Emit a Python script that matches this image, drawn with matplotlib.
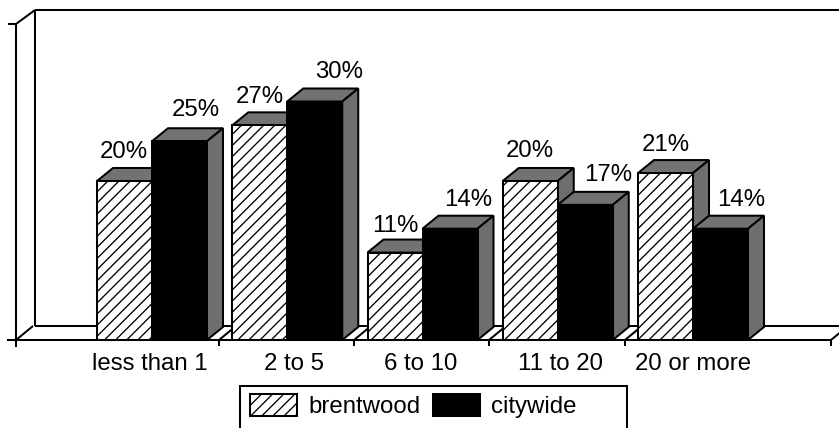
import matplotlib
matplotlib.use("Agg")
import matplotlib.pyplot as plt
from matplotlib.patches import Polygon, Patch, Rectangle

categories = ["less than 1", "2 to 5", "6 to 10", "11 to 20", "20 or more"]
brentwood = [20, 27, 11, 20, 21]
citywide = [25, 30, 14, 17, 14]

plt.rcParams["font.family"] = ["Liberation Sans", "DejaVu Sans"]
plt.rcParams["hatch.linewidth"] = 0.95
FS = 17.3
LW = 1.45
W, H = 839, 428
GROUP_PX, ORIGIN_PX = 135.25, 152.0
PCT_PX, BASE_PX = 7.95, 340.0

fig = plt.figure(figsize=(W / 100, H / 100), dpi=100, facecolor="white")
ax = fig.add_axes([0, 0, 1, 1])
ax.set_xlim(-ORIGIN_PX / GROUP_PX, (W - ORIGIN_PX) / GROUP_PX)
ax.set_ylim(-(H - BASE_PX) / PCT_PX, BASE_PX / PCT_PX)


def X(p):
    return (p - ORIGIN_PX) / GROUP_PX


def dx(p):
    return p / GROUP_PX


def dy(p):
    return p / PCT_PX


DEPTH_X, DEPTH_Y = dx(16), dy(13)
BAR_W = dx(55)
LEFT, BACK = X(16), X(35)
AXIS_TOP = dy(316)
RIGHT = X(839)
WALL_TOP = AXIS_TOP + dy(14)
k = dict(color="black", lw=LW, solid_capstyle="butt", zorder=1)

# back wall and floor
ax.plot([BACK, BACK], [dy(14), WALL_TOP], **k)
ax.plot([BACK, RIGHT], [WALL_TOP, WALL_TOP], **k)
ax.plot([BACK, RIGHT], [dy(14), dy(14)], **k)
ax.plot([LEFT, BACK], [AXIS_TOP, WALL_TOP], **k)
boundaries = [X(16), X(219), X(354), X(489), X(625), X(831)]
for b in boundaries:
    ax.plot([b, b + dx(17)], [0, dy(14)], **k)


def draw_bar(x0, v, face, hatch, z):
    ax.bar(x0, v, BAR_W, align="edge", facecolor=face, edgecolor="black",
           hatch=hatch, linewidth=LW, zorder=z + 0.2)
    x1 = x0 + BAR_W
    ax.add_patch(Polygon([(x0, v), (x0 + DEPTH_X, v + DEPTH_Y), (x1 + DEPTH_X, v + DEPTH_Y), (x1, v)],
                         closed=True, facecolor="#727272", edgecolor="black", lw=LW, zorder=z))
    ax.add_patch(Polygon([(x1, 0), (x1 + DEPTH_X, DEPTH_Y), (x1 + DEPTH_X, v + DEPTH_Y), (x1, v)],
                         closed=True, facecolor="#6e6e6e", edgecolor="black", lw=LW, zorder=z))


label_dx_b = [-1, 0, 0, 0, 0]
label_dx_c = [16, 24, 18, 23, 21]
label_up = [29, 28, 27, 30, 28]
label_up_c = [31, 30, 29, 30, 29]

for i, (b, c) in enumerate(zip(brentwood, citywide)):
    z = 2 + i
    draw_bar(i - BAR_W, b, "white", "///", z)
    draw_bar(float(i), c, "black", None, z + 0.5)
    for val, cx, up, off in ((b, i - BAR_W / 2, label_up[i], label_dx_b[i]),
                             (c, i + BAR_W / 2, label_up_c[i], label_dx_c[i])):
        ax.annotate(f"{val}%", (cx, val), xytext=(off * 0.72, up * 0.72),
                    textcoords="offset points", ha="center", va="center",
                    fontsize=FS, color="black", zorder=20)

# axes through the library's spines and ticks
for s in ("top", "right"):
    ax.spines[s].set_visible(False)
ax.spines["bottom"].set_position(("data", 0))
ax.spines["bottom"].set_bounds(X(8), X(831))
ax.spines["bottom"].set_linewidth(LW)
ax.spines["bottom"].set_zorder(15)
ax.spines["left"].set_position(("data", LEFT))
ax.spines["left"].set_bounds(-dy(6), AXIS_TOP)
ax.spines["left"].set_linewidth(LW)
ax.set_yticks([0, AXIS_TOP], ["", ""])
ax.tick_params(axis="y", length=5.5, width=LW, direction="out")
label_px = [150, 294, 421, 561, 693]
ax.set_xticks([X(p) for p in label_px], categories, fontsize=FS)
ax.tick_params(axis="x", which="major", length=0, pad=9.5)
ax.set_xticks(boundaries, minor=True)
ax.tick_params(axis="x", which="minor", length=4.5, width=LW, direction="out")
ax.patch.set_visible(False)

# legend, its frame runs off the bottom of the picture
ax.add_patch(Rectangle((X(240), -(H + 20 - BASE_PX) / PCT_PX), dx(387), (H + 20 - 386) / PCT_PX,
                       facecolor="white", edgecolor="black", lw=LW, zorder=21, clip_on=True))
handles = [Patch(facecolor="white", edgecolor="black", hatch="///", lw=LW, label="brentwood"),
           Patch(facecolor="black", edgecolor="black", lw=LW, label="citywide")]
ax.legend(handles=handles, ncol=2, frameon=False, fontsize=FS, loc="upper left",
          bbox_to_anchor=(X(250), -(394 - BASE_PX) / PCT_PX), bbox_transform=ax.transData,
          borderaxespad=0, borderpad=0, handlelength=1.96, handleheight=1.05,
          handletextpad=0.47, columnspacing=0.5).set_zorder(22)

fig.savefig("out.png", dpi=100)
